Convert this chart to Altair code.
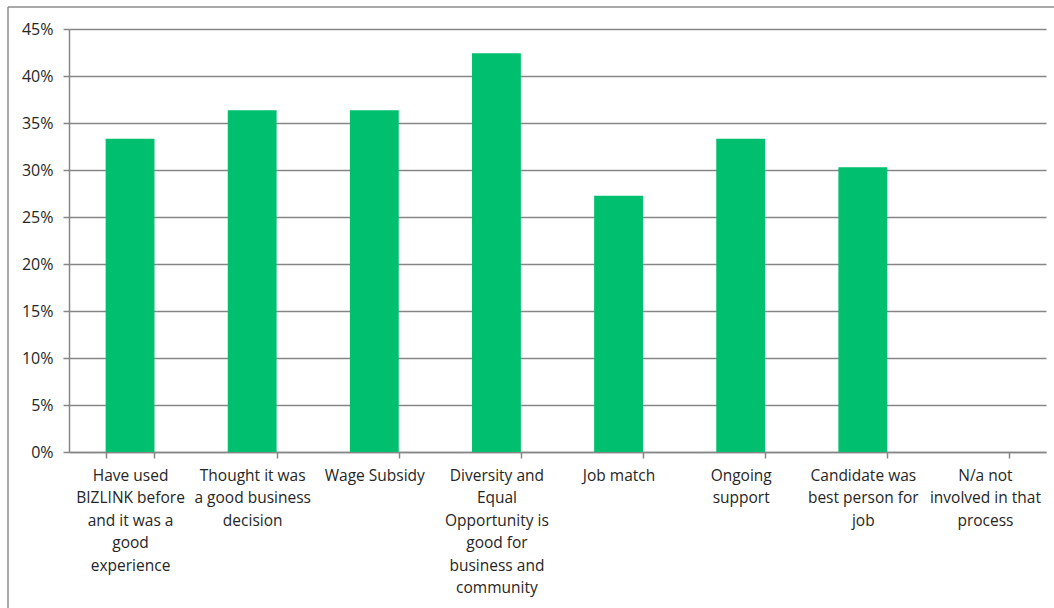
import altair as alt
import pandas as pd

categories = [
    "Have used|BIZLINK before|and it was a|good|experience",
    "Thought it was|a good business|decision",
    "Wage Subsidy",
    "Diversity and|Equal|Opportunity is|good for|business and|community",
    "Job match",
    "Ongoing|support",
    "Candidate was|best person for|job",
    "N/a not|involved in that|process",
]
shares = [0.3333, 0.3636, 0.3636, 0.4242, 0.2727, 0.3333, 0.3030, 0.0]
y_ticks = [0, 0.05, 0.10, 0.15, 0.20, 0.25, 0.30, 0.35, 0.40, 0.45]

df = pd.DataFrame({"reason": categories, "share": shares})

FONT = "Open Sans"
GRID = "#868686"
TEXT = "#262626"
W, H = 977, 423

bars = alt.Chart(df).mark_bar(color="#00BF6F").encode(
    x=alt.X(
        "reason:N",
        sort=categories,
        scale=alt.Scale(paddingInner=0.6, paddingOuter=0.3),
        axis=alt.Axis(
            title=None,
            labelAngle=0,
            labelExpr="datum.value ? split(datum.value, '|') : ''",
            labelLineHeight=22.5,
            labelBaseline="top",
            labelPadding=10,
            labelLimit=0,
            labelFont=FONT,
            labelFontSize=15.5,
            labelColor=TEXT,
            ticks=True,
            tickBand="extent",
            tickSize=6,
            tickWidth=1.5,
            tickColor=GRID,
            domainColor=GRID,
            domainWidth=1.5,
            grid=False,
        ),
    ),
    y=alt.Y(
        "share:Q",
        scale=alt.Scale(domain=[0, 0.45], nice=False),
        axis=alt.Axis(
            title=None,
            values=y_ticks,
            format=".0%",
            labelFont=FONT,
            labelFontSize=16,
            labelColor=TEXT,
            labelPadding=10,
            tickSize=6,
            tickWidth=1.5,
            tickColor=GRID,
            domainColor=GRID,
            domainWidth=1.5,
            gridColor=GRID,
            gridWidth=1.3,
            grid=True,
        ),
    ),
)

frame_data = alt.Data(values=[{"k": 1}])
frame_left = alt.Chart(frame_data).mark_rule(color="#8c8c8c", strokeWidth=1.5).encode(
    x=alt.value(-61), y=alt.value(-22), y2=alt.value(620)
)
frame_top = alt.Chart(frame_data).mark_rule(color="#8c8c8c", strokeWidth=1.5).encode(
    x=alt.value(-61), x2=alt.value(1000), y=alt.value(-22)
)

chart = (
    alt.layer(bars, frame_left, frame_top)
    .properties(
        width=W,
        height=H,
        padding={"left": 69, "top": 29, "right": 8, "bottom": 156},
        autosize=alt.AutoSizeParams(type="none"),
        background="white",
    )
    .configure_view(stroke=None)
)

chart.save("out.html", embed_options={"renderer": "svg", "actions": False})
